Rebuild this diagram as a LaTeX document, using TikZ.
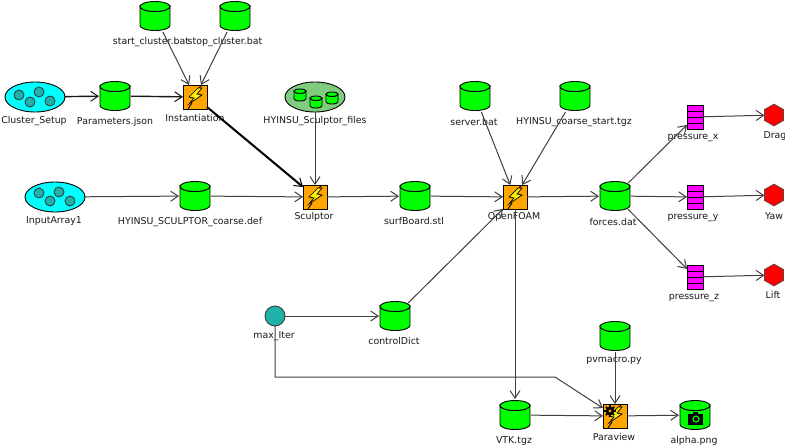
\documentclass[tikz,border=0pt]{standalone}
\usepackage{fontspec}
\setmainfont{DejaVu Sans}
\usetikzlibrary{shapes.geometric, arrows.meta}

\definecolor{filegreen}{HTML}{00FF00}
\definecolor{groupgreen}{HTML}{7FCC7F}
\definecolor{tokenteal}{HTML}{20B2AA}
\definecolor{actororange}{HTML}{FFA500}
\definecolor{setcyan}{HTML}{00FFFF}
\definecolor{queuemagenta}{HTML}{FF00FF}

\newcommand{\boltmark}[1]{
	\begin{scope}[shift={(path picture bounding box.center)}, yshift=#1]
		\draw[black, line width=0.9pt] (-7,12) -- (-3,6);
		\draw[black, line width=0.9pt] (7,-12) -- (3,-8);
		\draw[black, fill=yellow, line width=0.7pt] (3,-9) -- (-6,0) -- (-1,1) -- (-6,7) -- (7,-2) -- (2,-3) -- (7,-9) -- cycle;
	\end{scope}
}

%% #1 half width, #2 half height, #3 radius of the lid
\newcommand{\drummark}[3]{
	\begin{scope}[shift={(path picture bounding box.center)}]
		\draw[black, fill=filegreen, line width=0.9pt] (-#1,-#2+#3) arc[start angle=180, end angle=360, x radius=#1, y radius=-#3] -- (#1,#2-#3) arc[start angle=0, end angle=-180, x radius=#1, y radius=-#3] -- cycle;
		\draw[black, fill=filegreen, line width=0.9pt] (0,-#2+#3) ellipse[x radius=#1, y radius=#3];
	\end{scope}
}

\tikzset{
	datafile/.style={minimum size=32, inner sep=0, outer sep=0, path picture={\drummark{15}{14.5}{5}}},
	minifile/.style={minimum size=14, inner sep=0, outer sep=0, path picture={\drummark{6}{6}{2.2}}},
	inputset/.style={draw=black, line width=0.9pt, ellipse, fill=setcyan, minimum width=60, minimum height=30, inner sep=0, outer sep=0},
	groupset/.style={inputset, fill=groupgreen},
	token/.style={draw=black!80, line width=0.8pt, circle, fill=tokenteal, minimum size=10, inner sep=0},
	param/.style={token, minimum size=20, outer sep=0},
	actor/.style={draw=black, line width=0.9pt, fill=actororange, minimum size=24, inner sep=0, outer sep=0, path picture={\boltmark{0}}},
	gearactor/.style={actor, path picture={\boltmark{3}}},
	queue/.style={draw=black, line width=0.8pt, fill=queuemagenta, minimum width=16, minimum height=24, inner sep=0, outer sep=0, path picture={
		\begin{scope}[shift={(path picture bounding box.center)}]
			\foreach \dy in {-6,0,6} \draw[black, line width=0.8pt] (-8,\dy) -- (8,\dy);
		\end{scope}}},
	outcome/.style={draw=black!70, line width=0.6pt, regular polygon, regular polygon sides=6, shape border rotate=30, fill=red, minimum size=22, inner sep=0, outer sep=0},
	txt/.style={font=\fontsize{9.4}{11}\selectfont, text=black!90, inner sep=0},
	link/.style={draw=black!75, line width=1pt, -{Straight Barb[length=7.5pt, width=10pt, line width=1pt]}},
	stronglink/.style={link, draw=black!90, line width=1.4pt},
	boldlink/.style={link, draw=black, line width=2pt},
	cornerlink/.style={link, shorten <=-4pt}
}

\begin{document}
\begin{tikzpicture}[x=1pt, y=-1pt]

\useasboundingbox[fill=white] (0,0) rectangle (785,447);

%% Labels
\node[txt] (lStart) at (151,42) {start\_cluster.bat};
\node[txt] (lStop) at (225,42) {stop\_cluster.bat};
\node[txt] (lCluster) at (34,121) {Cluster\_Setup};
\node[txt] (lParams) at (115,122) {Parameters.json};
\node[txt] (lInst) at (195,118) {Instantiation};
\node[txt] (lFiles) at (315,121) {HYINSU\_Sculptor\_files};
\node[txt] (lInput) at (54,221) {InputArray1};
\node[txt] (lCoarse) at (190,222) {HYINSU\_SCULPTOR\_coarse.def};
\node[txt] (lSculptor) at (314,217) {Sculptor};
\node[txt] (lSurf) at (414,221) {surfBoard.stl};
\node[txt] (lServer) at (474,122) {server.bat};
\node[txt] (lStartTgz) at (574,122) {HYINSU\_coarse\_start.tgz};
\node[txt] (lFoam) at (514,217) {OpenFOAM};
\node[txt] (lForces) at (613,222) {forces.dat};
\node[txt] (lPx) at (693,138) {pressure\_x};
\node[txt] (lPy) at (693,218) {pressure\_y};
\node[txt] (lPz) at (694,298) {pressure\_z};
\node[txt] (lDrag) at (775,136) {Drag};
\node[txt] (lYaw) at (774,216) {Yaw};
\node[txt] (lLift) at (773,295) {Lift};
\node[txt] (lMax) at (274,336) {max\_Iter};
\node[txt] (lDict) at (394,341) {controlDict};
\node[txt] (lMacro) at (614,361) {pvmacro.py};
\node[txt] (lVtk) at (514,441) {VTK.tgz};
\node[txt] (lView) at (614,437) {Paraview};
\node[txt] (lAlpha) at (694,441) {alpha.png};

%% Top row
\node[datafile] (startCluster) at (155,16) {};
\node[datafile] (stopCluster) at (235,16) {};
\node[inputset] (clusterSetup) at (35,97) {};
\node[datafile] (params) at (115,96) {};
\node[actor] (inst) at (195,97) {};
\node[groupset] (sculptorFiles) at (315,97) {};
\node[datafile] (server) at (475,96) {};
\node[datafile] (startTgz) at (575,96) {};

%% Middle row
\node[inputset] (inputArray) at (55,197) {};
\node[datafile] (coarseDef) at (195,196) {};
\node[actor] (sculptor) at (315,197) {};
\node[datafile] (surfBoard) at (415,196) {};
\node[actor] (foam) at (515,197) {};
\node[datafile] (forces) at (615,196) {};

%% Outputs
\node[queue] (px) at (695,117) {};
\node[queue] (py) at (695,197) {};
\node[queue] (pz) at (695,277) {};
\node[outcome] (drag) at (774,115) {};
\node[outcome] (yaw) at (774,195) {};
\node[outcome] (lift) at (774,275) {};

%% Bottom rows
\node[param] (maxIter) at (275,316) {};
\node[datafile] (controlDict) at (395,316) {};
\node[datafile] (pvmacro) at (615,336) {};
\node[datafile] (vtk) at (515,415) {};
\node[gearactor] (paraview) at (615,416) {};
\node[datafile] (alpha) at (695,415) {};

%% Tokens and small files inside the sets
\foreach \px/\py in {19/95, 30/102, 39/92, 50/101} \node[token] (tc\px) at (\px,\py) {};
\foreach \px/\py in {39/193, 50/201, 59/192, 70/201} \node[token] (ti\px) at (\px,\py) {};
\foreach \px/\py in {300/95, 316/102, 332/98} \node[minifile] (mf\px) at (\px,\py) {};

%% Gear on Paraview
\begin{scope}[shift={(610,411)}]
	\foreach \a in {0,45,...,315} \draw[black, line width=1.6pt] (0,0) -- (\a:6);
	\fill[black] (0,0) circle (4.4);
	\fill[actororange] (0,0) circle (1.6);
\end{scope}

%% Camera on alpha.png
\begin{scope}[shift={(695,419)}]
	\fill[black] (-7.5,-5.5) rectangle (7.5,5.5);
	\fill[black] (-2,-7.5) rectangle (3,-5);
	\fill[filegreen] (1,0) circle (3.6);
	\fill[black] (1,0) circle (2.2);
\end{scope}

%% Connectors
\draw[link] (startCluster) -- (inst);
\draw[link] (stopCluster) -- (inst);
\draw[stronglink] (clusterSetup) -- (params);
\draw[stronglink] (params) -- (inst);
\draw[boldlink] (inst) -- (sculptor);
\draw[link] (sculptorFiles) -- (sculptor);
\draw[link] (inputArray) -- (coarseDef);
\draw[link] (coarseDef) -- (sculptor);
\draw[link] (sculptor) -- (surfBoard);
\draw[link] (surfBoard) -- (foam);
\draw[link] (server) -- (foam);
\draw[link] (startTgz) -- (foam);
\draw[cornerlink] (controlDict) -- (foam);
\draw[link] (foam) -- (forces);
\draw[link] (foam) -- (vtk);
\draw[cornerlink] (forces) -- (px);
\draw[link] (forces) -- (py);
\draw[cornerlink] (forces) -- (pz);
\draw[link] (px) -- (drag);
\draw[link] (py) -- (yaw);
\draw[link] (pz) -- (lift);
\draw[link] (maxIter) -- (controlDict);
\coordinate (bendA) at (275,377);
\coordinate (bendB) at (555,377);
\draw[link] (maxIter) -- (bendA) -- (bendB) -- (paraview);
\draw[link] (pvmacro) -- (paraview);
\draw[link] (vtk) -- (paraview);
\draw[link] (paraview) -- (alpha);

\end{tikzpicture}
\end{document}
